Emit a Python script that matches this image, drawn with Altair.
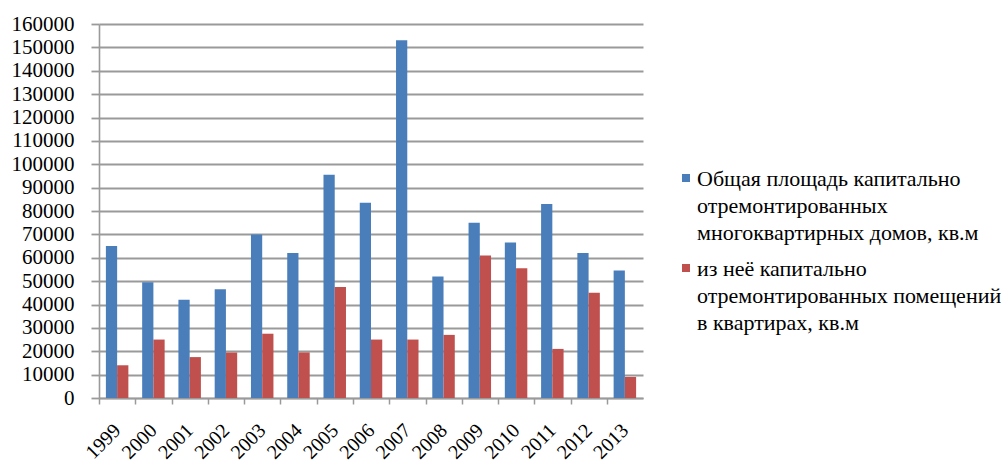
import altair as alt
import pandas as pd

# Capital repair of apartment buildings, 1999-2013 (sq. m)
years = ["1999", "2000", "2001", "2002", "2003", "2004", "2005", "2006",
         "2007", "2008", "2009", "2010", "2011", "2012", "2013"]
total_area = [65000, 49500, 42000, 46500, 70000, 62000, 95500, 83500,
              153000, 52000, 75000, 66500, 83000, 62000, 54500]
flat_area = [14000, 25000, 17500, 19500, 27500, 19500, 47500, 25000,
             25000, 27000, 61000, 55500, 21000, 45000, 9000]

series_names = [
    "Общая площадь капитально\nотремонтированных\nмногоквартирных домов, кв.м",
    "из неё капитально\nотремонтированных помещений\nв квартирах, кв.м",
]
series_colors = ["#4a7ebb", "#c0504d"]
y_ticks = list(range(0, 160001, 10000))

rows = []
for i, y in enumerate(years):
    rows.append({"year": y, "series": series_names[0], "value": total_area[i]})
    rows.append({"year": y, "series": series_names[1], "value": flat_area[i]})
df = pd.DataFrame(rows)

FONT = "'Times New Roman', 'Liberation Serif', 'DejaVu Serif', serif"
GRID = "#9a9a9a"
# square legend swatch, nudged down so it sits beside the first text line
SWATCH = "M-1,1.25L1,1.25L1,3.25L-1,3.25Z"

chart = (
    alt.Chart(df)
    .mark_bar()
    .encode(
        x=alt.X(
            "year:N",
            sort=years,
            title=None,
            scale=alt.Scale(paddingInner=0.38, paddingOuter=0.19),
            axis=alt.Axis(
                labelAngle=315,
                labelAlign="right",
                labelBaseline="middle",
                labelFont=FONT,
                labelFontSize=20,
                labelColor="#000000",
                labelPadding=23,
                tickSize=6,
                tickOffset=-18,
                labelOffset=18,
                tickColor=GRID,
                tickWidth=1.5,
                domainColor=GRID,
                domainWidth=1.6,
                grid=False,
            ),
        ),
        xOffset=alt.XOffset("series:N", sort=series_names),
        y=alt.Y(
            "value:Q",
            title=None,
            scale=alt.Scale(domain=[0, 160000], nice=False),
            axis=alt.Axis(
                values=y_ticks,
                format="d",
                labelFont=FONT,
                labelFontSize=21,
                labelColor="#000000",
                labelPadding=17,
                tickSize=8,
                tickColor=GRID,
                tickWidth=1.8,
                gridColor=GRID,
                gridWidth=1.8,
                domainColor=GRID,
                domainWidth=1.6,
                labelOverlap=False,
            ),
        ),
        color=alt.Color(
            "series:N",
            sort=series_names,
            scale=alt.Scale(domain=series_names, range=series_colors),
            legend=alt.Legend(
                title=None,
                orient="none",
                legendX=576,
                legendY=134,
                symbolType=SWATCH,
                symbolSize=64,
                symbolStrokeWidth=0,
                labelFont=FONT,
                labelFontSize=22,
                labelColor="#000000",
                labelLimit=400,
                labelExpr="split(datum.label, '\\n')",
                labelBaseline="top",
                rowPadding=4,
                labelOffset=0,
            ),
        ),
    )
    .properties(
        width=544,
        height=374,
        padding={"left": 99, "top": 24, "right": 358, "bottom": 70},
        autosize=alt.AutoSizeParams(type="none"),
    )
    .configure(background="#ffffff", style={"guide-label": {"lineHeight": 27}})
    .configure_view(stroke=None)
)

chart.save("out.html", embed_options={"renderer": "svg", "actions": False})
